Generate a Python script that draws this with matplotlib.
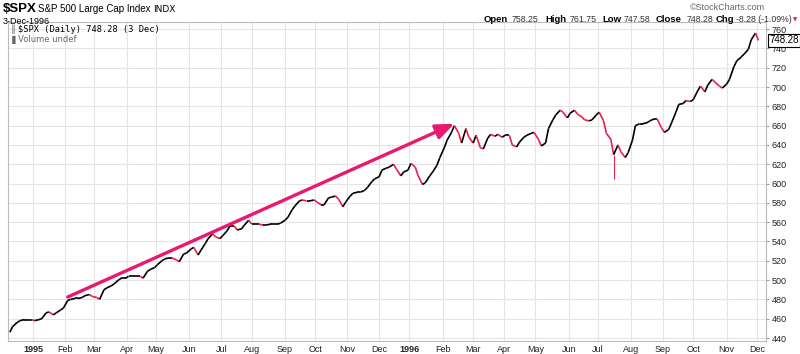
import numpy as np
import pandas as pd
import matplotlib
matplotlib.use("Agg")
import matplotlib.pyplot as plt
from matplotlib.collections import LineCollection

# ---------------- data ----------------
fri_start = "1994-12-09"   # Friday closes, weekly
fri_close = [446, 456, 459, 459, 459, 466, 464, 469, 479, 481,
             482, 485, 482, 490, 494, 500, 502, 504, 504, 509,
             513, 520, 523, 521, 527, 532, 526, 538, 548, 543,
             551, 556, 553, 562, 558, 557, 558, 558, 562, 573,
             582, 582, 583, 578, 585, 587, 576, 587, 591, 593,
             602, 607, 616, 620, 608, 614, 617, 599, 608, 619,
             637, 653, 652, 657, 642, 637, 647, 649, 648, 650,
             638, 648, 652, 646, 642, 666, 676, 668, 676, 669,
             665, 671, 665, 646, 640, 627, 645, 662, 663, 667,
             658, 656, 674, 683, 685, 696, 695, 708, 701, 703,
             721, 731, 739, 756]
tue_start = "1994-12-13"   # Tuesday closes, weekly (last one = 3 Dec 1996)
tue_close = [452, 458, 459, 458, 460, 467, 466, 471, 480, 481,
             484, 483, 480, 492, 496, 502, 504, 504, 502, 511,
             516, 522, 523, 519, 528, 534, 531, 543, 545, 546,
             556, 552, 557, 558, 558, 557, 558, 559, 565, 577,
             583, 582, 581, 578, 586, 584, 581, 590, 591, 596,
             605, 614, 617, 615, 612, 621, 608, 601, 612, 627,
             645, 660, 642, 648, 650, 636, 651, 651, 650, 640,
             643, 650, 653, 639, 657, 671, 674, 673, 672, 666,
             666, 674, 652, 630, 633, 632, 660, 662, 665, 667,
             653, 663, 682, 686, 687, 701, 702, 705, 699, 708,
             727, 734, 749, 748.28]
spike_dates = ["1996-07-16"]      # intraday low spike visible in the chart
spike_lows = [605]

arrow_start_date, arrow_start_val = "1995-02-03", 482.5
arrow_end_date, arrow_end_val = "1996-02-13", 662.0

last_close = 748.28
y_ticks = list(range(440, 761, 20))
month_starts = pd.date_range("1995-01-01", "1996-12-01", freq="MS")

header_tokens = [("Open", True, 484), ("758.25", False, 512), ("High", True, 545),
                 ("761.75", False, 570), ("Low", True, 602), ("747.58", False, 624),
                 ("Close", True, 656), ("748.28", False, 687), ("Chg", True, 716),
                 ("-8.28 (-1.09%)", False, 736)]

# ---------------- helpers ----------------
base = np.datetime64("1995-01-02")


def bidx(d):
    d = np.array(d, dtype="datetime64[D]")
    return np.busday_count(base, d)


fdates = pd.date_range(fri_start, periods=len(fri_close), freq="W-FRI").values.astype("datetime64[D]")
tdates = pd.date_range(tue_start, periods=len(tue_close), freq="W-TUE").values.astype("datetime64[D]")
all_dates = np.concatenate([fdates, tdates])
all_close = np.array(list(fri_close) + list(tue_close), dtype=float)
order = np.argsort(all_dates)
dates = all_dates[order]
closes = all_close[order]
x = bidx(dates).astype(float)

RED = "#e3224f"
PINK = "#e8196f"
GRID = "#e4e4e4"
TXT = "#222222"
SANS = ["Liberation Sans", "DejaVu Sans"]
MONO = ["DejaVu Sans Mono"]

W, H = 800, 354
fig = plt.figure(figsize=(8.0, 3.54), dpi=100)
fig.patch.set_facecolor("white")


def fx(px):
    return px / W


def fy(py):
    return 1 - py / H


ax = fig.add_axes([fx(8), fy(341), fx(766) - fx(8), fy(22) - fy(341)])
px_per_day = (757 - 33) / 500.0
ax.set_xlim((8 - 33) / px_per_day, (766 - 33) / px_per_day)
ax.set_ylim(436.9, 767.4)

# grid
for v in y_ticks:
    ax.axhline(v, color=GRID, lw=0.8, zorder=0)
mpos = [int(np.busday_count(base, np.busday_offset(np.datetime64(m.date()), 0, roll="forward")))
        for m in month_starts]
for p in mpos:
    ax.axvline(p, color=GRID, lw=0.8, zorder=0)

# price line, coloured by direction
pts = np.column_stack([x, closes])
segs = np.stack([pts[:-1], pts[1:]], axis=1)
cols = [RED if closes[i + 1] < closes[i] else "black" for i in range(len(closes) - 1)]
ax.add_collection(LineCollection(segs, colors=cols, linewidths=1.2, zorder=3,
                                 capstyle="butt", joinstyle="miter"))
for d, lo in zip(spike_dates, spike_lows):
    xi = float(bidx(d))
    ci = closes[np.argmin(np.abs(x - xi))]
    ax.vlines(xi, lo, ci, color=RED, lw=0.8, zorder=3)

# arrow
ax.annotate("", xy=(bidx(arrow_end_date), arrow_end_val),
            xytext=(bidx(arrow_start_date), arrow_start_val),
            arrowprops=dict(arrowstyle="-|>,head_length=1.1,head_width=0.45",
                            mutation_scale=10, lw=2.4, color=PINK,
                            shrinkA=0, shrinkB=0), zorder=4)

# axes styling
for s in ax.spines.values():
    s.set_color("#bbbbbb")
    s.set_linewidth(0.8)
ax.yaxis.tick_right()
ax.set_yticks(y_ticks)
ax.set_yticklabels([str(v) for v in y_ticks], fontsize=6.5, color=TXT, family=SANS)
ax.tick_params(axis="y", length=2, pad=2, color="#999999")
ax.set_xticks(mpos)
labels = [str(m.year) if m.month == 1 else m.strftime("%b") for m in month_starts]
ax.set_xticklabels(labels, fontsize=6.5, color=TXT, family=SANS)
for lab, m in zip(ax.get_xticklabels(), month_starts):
    if m.month == 1:
        lab.set_fontweight("bold")
ax.tick_params(axis="x", length=0, pad=3)

# last value box
ax.text(1.004, (last_close - 436.9) / (767.4 - 436.9), f"{last_close:.2f}",
        transform=ax.transAxes, fontsize=7, family=SANS, color="black",
        va="center", ha="left", zorder=6,
        bbox=dict(boxstyle="square,pad=0.12", fc="white", ec="black", lw=0.8))

# in-chart legend text
fig.text(fx(18), fy(29), "$SPX (Daily) 748.28 (3 Dec)", fontsize=6.2, family=MONO,
         color="black", va="center", ha="left")
fig.text(fx(10), fy(29), "\u2551", fontsize=6, family=["DejaVu Sans"], color="#555555",
         va="center", ha="left")
fig.text(fx(9), fy(40), "\u2590 Volume undef", fontsize=6, family=["DejaVu Sans"],
         color="#666666", va="center", ha="left")

# header left
fig.text(fx(3), fy(9), "$SPX", fontsize=9.5, fontweight="bold", family=SANS,
         color="black", va="center", ha="left")
fig.text(fx(38), fy(9), "S&P 500 Large Cap Index", fontsize=7, family=SANS,
         color="black", va="center", ha="left")
fig.text(fx(153), fy(9), "INDX", fontsize=6.5, family=["DejaVu Sans"],
         color="black", va="center", ha="left")
fig.text(fx(3), fy(21), "3-Dec-1996", fontsize=6.5, family=SANS, color="black",
         va="center", ha="left")

# header right
fig.text(fx(765), fy(7), "\u00a9StockCharts.com", fontsize=6.5, family=SANS,
         color="#666666", va="center", ha="right")
for tok, bold, px in header_tokens:
    fig.text(fx(px), fy(20), tok, fontsize=6.8 if bold else 6.3,
             fontweight="bold" if bold else "normal", family=SANS,
             color="black" if bold else "#333333", va="center", ha="left")
fig.text(fx(793), fy(20), "\u25bc", fontsize=4.0, family=["DejaVu Sans"], color=RED,
         va="center", ha="left")

fig.savefig("out.png", dpi=100)
